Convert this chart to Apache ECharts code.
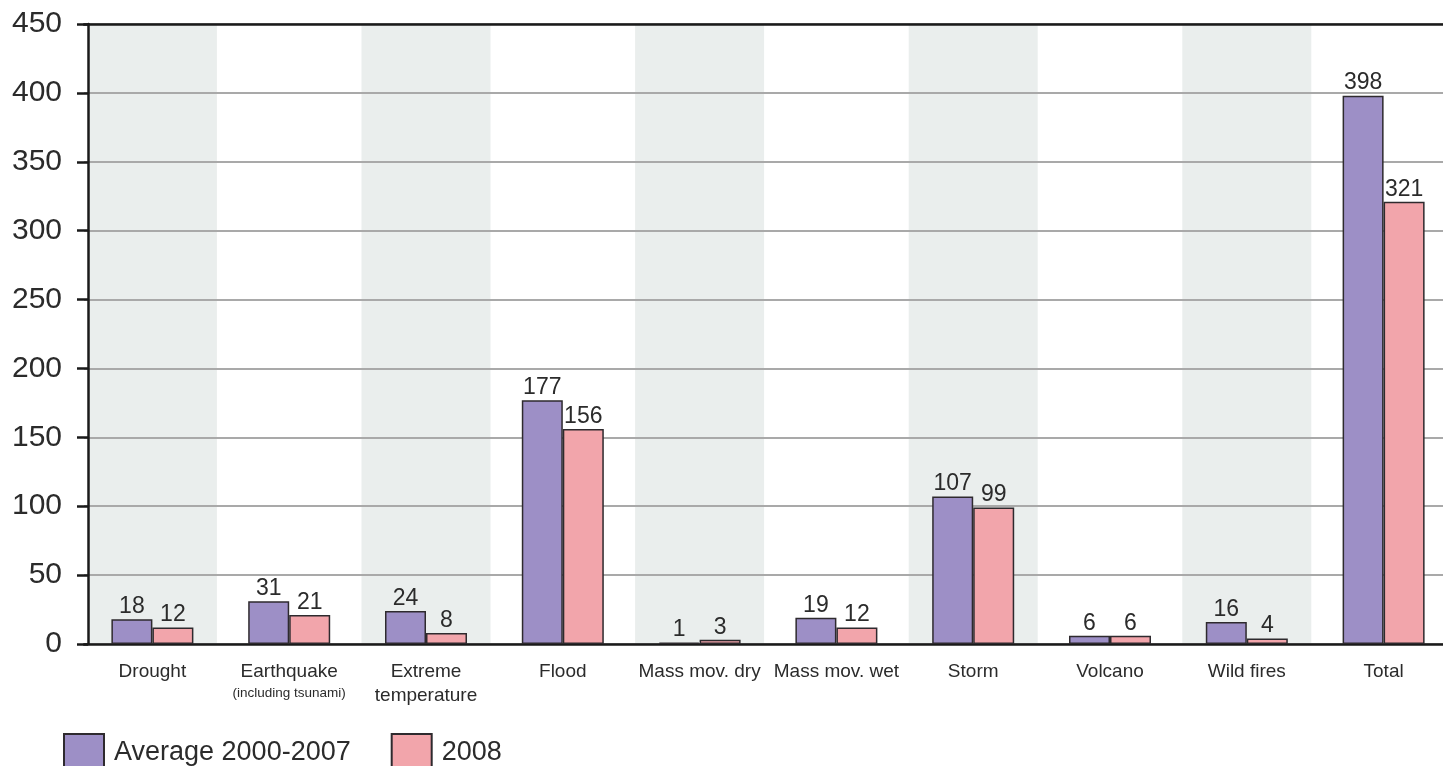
<!DOCTYPE html>
<html>
<head>
<meta charset="utf-8">
<script src="https://cdn.jsdelivr.net/npm/echarts@6/dist/echarts.min.js"></script>
<style>
html,body{margin:0;padding:0;background:#fff;overflow:hidden;}
#chart{width:1452px;height:766px;}
</style>
</head>
<body>
<div id="chart"></div>
<script>
var categories = ['Drought', 'Earthquake', 'Extreme temperature', 'Flood', 'Mass mov. dry', 'Mass mov. wet', 'Storm', 'Volcano', 'Wild fires', 'Total'];
var subLabels = ['', '(including tsunami)', '', '', '', '', '', '', '', ''];
var avg2000_2007 = [18, 31, 24, 177, 1, 19, 107, 6, 16, 398];
var year2008 = [12, 21, 8, 156, 3, 12, 99, 6, 4, 321];
var shadedBands = [450, '-', 450, '-', 450, '-', 450, '-', 450, '-'];
var seriesNames = ['Average 2000-2007', '2008'];

var regular = '"Liberation Sans", Arial, sans-serif';
var textColor = '#2b2b2b';

var chart = echarts.init(document.getElementById('chart'));
chart.setOption({
  animation: false,
  grid: { left: 84, right: 0, top: 24, bottom: 122, containLabel: false },
  legend: {
    data: seriesNames,
    left: 63,
    top: 733,
    padding: 0,
    icon: 'rect',
    itemWidth: 40,
    itemHeight: 38,
    itemGap: 40,
    selectedMode: false,
    textStyle: { fontFamily: regular, fontSize: 27, color: textColor, padding: [0, 0, 8, 5] }
  },
  xAxis: [
    {
      type: 'category',
      data: categories,
      axisLine: { lineStyle: { color: '#1a1a1a', width: 2.5 } },
      axisTick: { show: false },
      axisLabel: {
        margin: 16,
        fontFamily: regular,
        fontSize: 19,
        lineHeight: 24,
        color: textColor,
        interval: 0,
        formatter: function (v) {
          var idx = categories.indexOf(v);
          if (subLabels[idx]) return '{a|' + v + '}\n{b|' + subLabels[idx] + '}';
          if (v === 'Extreme temperature') return 'Extreme\ntemperature';
          return v;
        },
        rich: {
          a: { fontFamily: regular, fontSize: 19, color: textColor, lineHeight: 24 },
          b: { fontFamily: regular, fontSize: 13.5, color: textColor, lineHeight: 18 }
        }
      }
    },
    {
      type: 'category',
      data: categories,
      position: 'top',
      axisLine: { lineStyle: { color: '#1a1a1a', width: 2.5 } },
      axisTick: { show: false },
      axisLabel: { show: false },
      splitLine: { show: false }
    }
  ],
  yAxis: {
    type: 'value',
    min: 0,
    max: 450,
    interval: 50,
    offset: -4,
    axisLine: { show: true, lineStyle: { color: '#1a1a1a', width: 2.5 } },
    axisTick: { show: true, length: 11, lineStyle: { color: '#1a1a1a', width: 2.5 } },
    axisLabel: { margin: 26, fontFamily: regular, fontSize: 30, color: textColor },
    splitLine: { show: true, lineStyle: { color: '#a9a9a9', width: 2 } }
  },
  series: [
    {
      name: 'bands',
      type: 'bar',
      xAxisIndex: 1,
      data: shadedBands,
      barWidth: 129,
      silent: true,
      z: -1,
      itemStyle: { color: '#eaeeed' },
      legendHoverLink: false
    },
    {
      name: seriesNames[0],
      type: 'bar',
      data: avg2000_2007,
      barWidth: 41,
      barGap: '0%',
      itemStyle: { color: '#9d8fc6', borderColor: '#2e2a2e', borderWidth: 1.5 },
      label: { show: true, position: 'top', distance: 1, fontFamily: regular, fontSize: 23, color: textColor }
    },
    {
      name: seriesNames[1],
      type: 'bar',
      data: year2008,
      barWidth: 41,
      barGap: '0%',
      itemStyle: { color: '#f2a5ab', borderColor: '#2e2a2e', borderWidth: 1.5 },
      label: { show: true, position: 'top', distance: 1, fontFamily: regular, fontSize: 23, color: textColor }
    }
  ]
});
</script>
</body>
</html>
